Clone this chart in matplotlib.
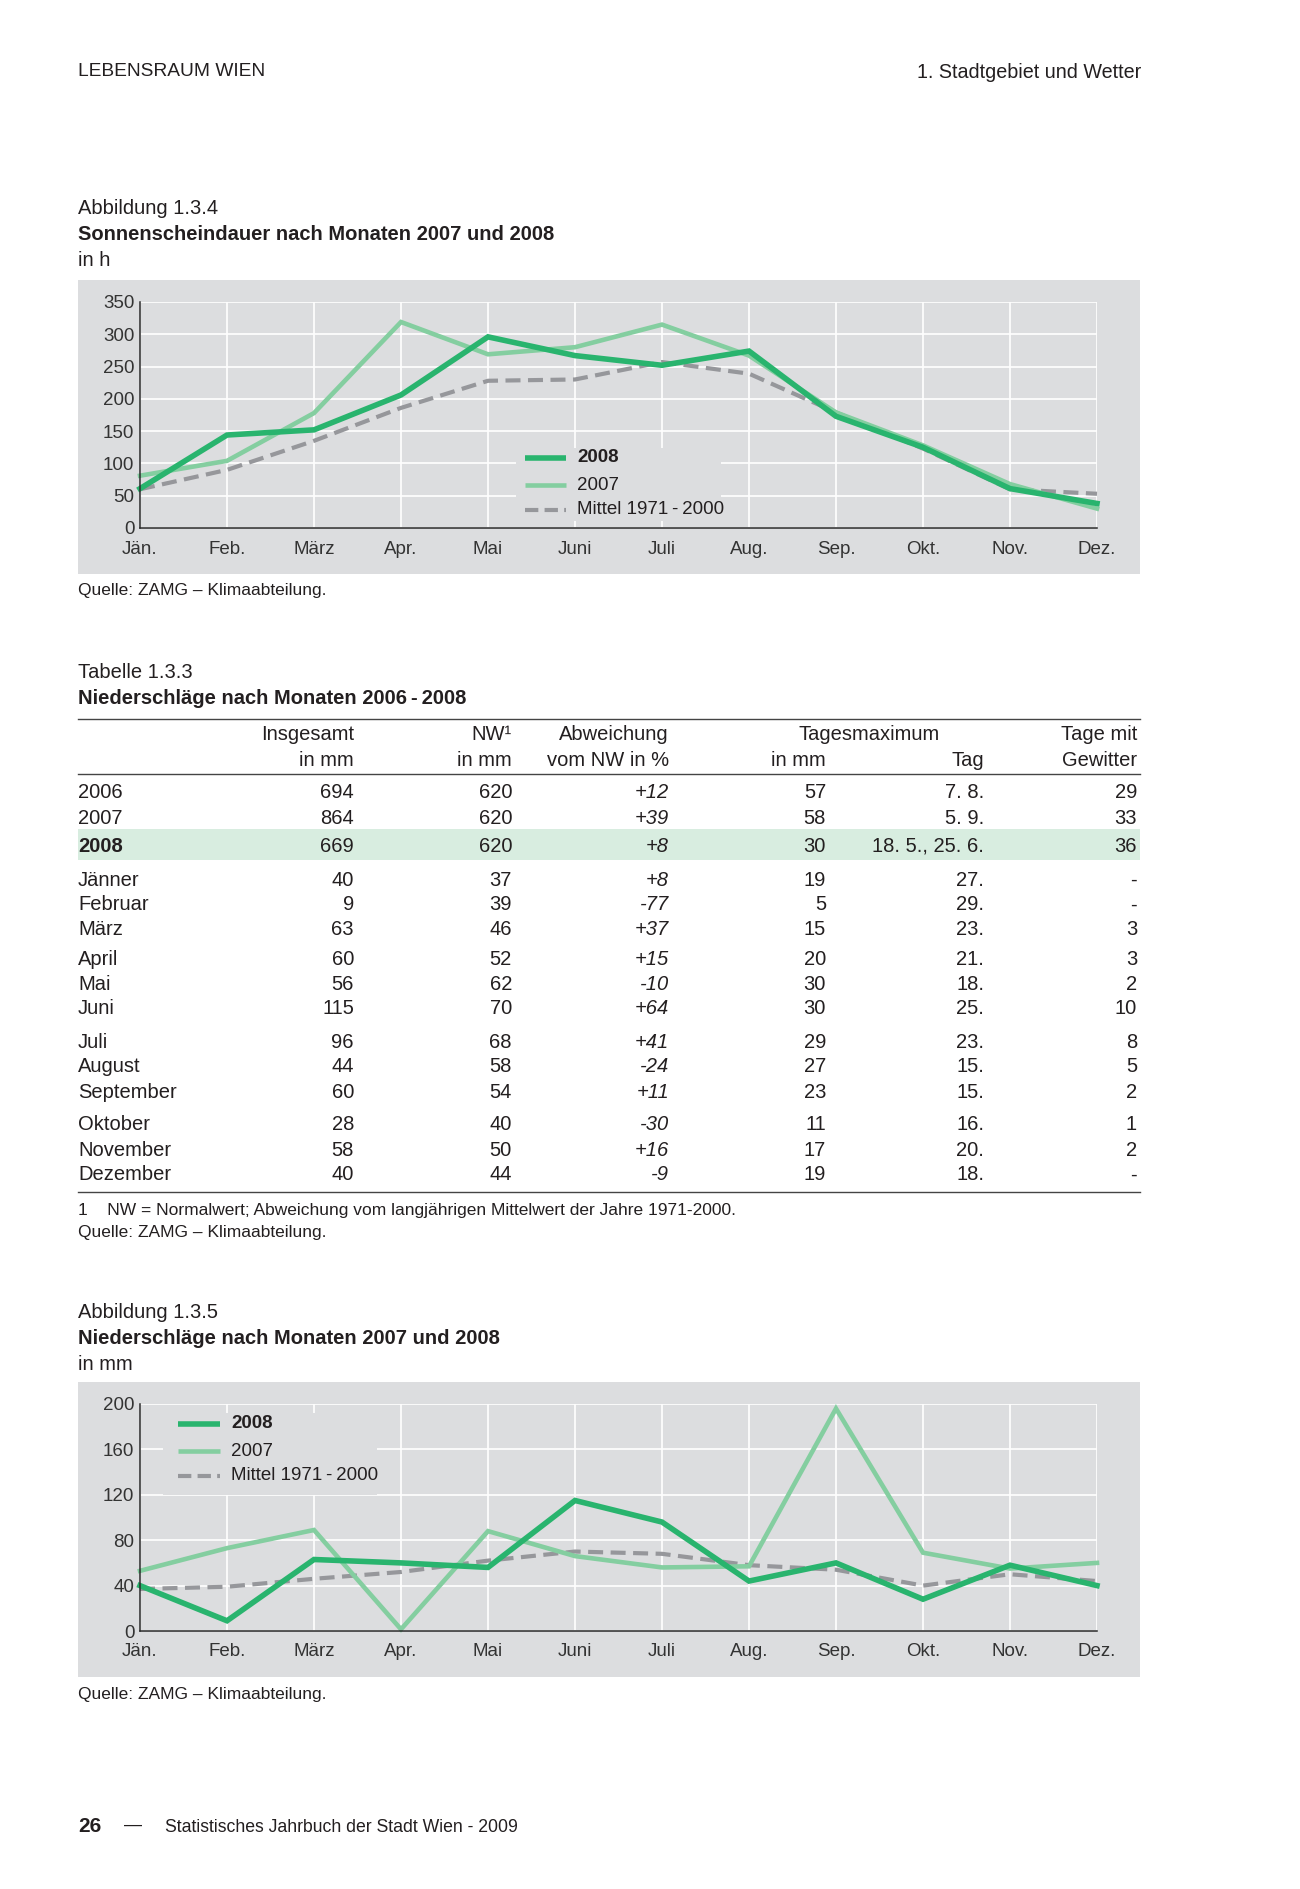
import numpy as np
import matplotlib
matplotlib.use('Agg')
import matplotlib.pyplot as plt
from matplotlib.patches import Rectangle
from matplotlib.lines import Line2D

plt.rcParams['font.family'] = ['Liberation Sans', 'DejaVu Sans']

# ---------------- data ----------------
months = ['Jän.', 'Feb.', 'März', 'Apr.', 'Mai', 'Juni', 'Juli', 'Aug.', 'Sep.', 'Okt.', 'Nov.', 'Dez.']

sun_2008 = [61, 144, 152, 206, 296, 267, 252, 274, 173, 125, 61, 38]
sun_2007 = [81, 104, 178, 319, 269, 280, 315, 267, 179, 128, 68, 30]
sun_mittel = [60, 90, 135, 186, 228, 230, 257, 239, 179, 123, 60, 53]

rain_2008 = [40, 9, 63, 60, 56, 115, 96, 44, 60, 28, 58, 40]
rain_2007 = [53, 73, 89, 1.5, 88, 66, 56, 57, 196, 69, 55, 60]
rain_mittel = [37, 39, 46, 52, 62, 70, 68, 58, 54, 40, 50, 44]

tab_rows = ['2006', '2007', '2008', 'Jänner', 'Februar', 'März', 'April', 'Mai', 'Juni',
            'Juli', 'August', 'September', 'Oktober', 'November', 'Dezember']
tab_insgesamt = [694, 864, 669, 40, 9, 63, 60, 56, 115, 96, 44, 60, 28, 58, 40]
tab_nw = [620, 620, 620, 37, 39, 46, 52, 62, 70, 68, 58, 54, 40, 50, 44]
tab_abw = ['+12', '+39', '+8', '+8', '-77', '+37', '+15', '-10', '+64', '+41', '-24', '+11', '-30', '+16', '-9']
tab_tagmax = [57, 58, 30, 19, 5, 15, 20, 30, 30, 29, 27, 23, 11, 17, 19]
tab_tag = ['7. 8.', '5. 9.', '18. 5., 25. 6.', '27.', '29.', '23.', '21.', '18.', '25.', '23.',
           '15.', '15.', '16.', '20.', '18.']
tab_gewitter = ['29', '33', '36', '-', '-', '3', '3', '2', '10', '8', '5', '2', '1', '2', '-']

# ---------------- style ----------------
W, H = 1300, 1889
TXT = '#231f20'
PANEL = '#dcdddf'
C08 = '#29b46e'
C07 = '#84cea0'
CMIT = '#96979b'
HILITE = '#d8ede0'
LW08, LW07, LWMIT = 4.0, 3.3, 3.0
MITTEL = 'Mittel 1971\u2009-\u20092000'


def fx(x):
    return x / W


def fy(y):
    return 1 - y / H


fig = plt.figure(figsize=(13, 18.89), dpi=100)


def txt(x, y, s, **kw):
    kw.setdefault('color', TXT)
    kw.setdefault('fontsize', 14.5)
    kw.setdefault('va', 'center')
    fig.text(fx(x), fy(y), s, **kw)


def hline(y, x0=78, x1=1140, lw=1.0):
    fig.add_artist(Line2D([fx(x0), fx(x1)], [fy(y), fy(y)], color='#444444', lw=lw))


# page header / footer
txt(78, 72, 'LEBENSRAUM WIEN', fontsize=13.8)
txt(1141, 72, '1. Stadtgebiet und Wetter', fontsize=14.2, ha='right')
txt(78, 1827, '26', fontsize=15, fontweight='bold')
txt(124, 1825, '—', fontsize=13)
txt(165, 1827, 'Statistisches Jahrbuch der Stadt Wien - 2009', fontsize=12.7)


def chart(top, bottom, ymax, ystep, d08, d07, dmit, leg_xy, leg_bg):
    # grey panel
    fig.add_artist(Rectangle((fx(78), fy(bottom)), fx(1140) - fx(78), fy(top) - fy(bottom),
                             transform=fig.transFigure, facecolor=PANEL, edgecolor='none', zorder=0))
    ax_top = top + 22
    ax_bot = bottom - 46
    ax = fig.add_axes([fx(140), fy(ax_bot), fx(1097) - fx(140), fy(ax_top) - fy(ax_bot)])
    ax.set_facecolor(PANEL)
    x = np.arange(len(months))
    ax.plot(x, dmit, color=CMIT, lw=LWMIT, dashes=(3.6, 1.8), solid_capstyle='butt',
            clip_on=False, zorder=3)
    ax.plot(x, d07, color=C07, lw=LW07, clip_on=False, zorder=4, solid_joinstyle='miter')
    ax.plot(x, d08, color=C08, lw=LW08, clip_on=False, zorder=5, solid_joinstyle='miter')
    ax.set_xlim(0, 11)
    ax.set_ylim(0, ymax)
    ax.set_xticks(x)
    ax.set_xticklabels(months)
    ax.set_yticks(np.arange(0, ymax + 1, ystep))
    ax.grid(True, color='white', lw=1.2, zorder=1)
    ax.set_axisbelow(True)
    for s in ['top', 'right']:
        ax.spines[s].set_visible(False)
    for s in ['left', 'bottom']:
        ax.spines[s].set_color('#2a2a2a')
        ax.spines[s].set_linewidth(1.1)
        ax.spines[s].set_zorder(6)
    ax.tick_params(length=0, labelsize=13.5, labelcolor='#333333')
    ax.tick_params(axis='x', pad=9)
    ax.tick_params(axis='y', pad=4)
    # legend box covering grid
    lx0, ly0, lx1, ly1 = leg_bg
    ax.add_artist(Rectangle((fx(lx0), fy(ly1)), fx(lx1) - fx(lx0), fy(ly0) - fy(ly1),
                            transform=fig.transFigure, facecolor=PANEL, edgecolor='none', zorder=2))
    hx0, hx1, tx0, ys = leg_xy
    handles = [(C08, LW08, None, '2008', 'bold'), (C07, LW07, None, '2007', 'normal'),
               (CMIT, LWMIT, (3.2, 1.5), MITTEL, 'normal')]
    for (c, lw, dash, lab, wt), yy in zip(handles, ys):
        ln = Line2D([fx(hx0), fx(hx1)], [fy(yy), fy(yy)], color=c, lw=lw, transform=fig.transFigure,
                    solid_capstyle='butt', dash_capstyle='butt')
        if dash:
            ln.set_dashes(dash)
        fig.add_artist(ln)
        txt(tx0, yy, lab, fontsize=13.5, fontweight=wt)
    return ax


# ---------------- Abbildung 1.3.4 ----------------
txt(78, 209, 'Abbildung 1.3.4', fontsize=14.5)
txt(78, 235, 'Sonnenscheindauer nach Monaten 2007 und 2008', fontsize=14.5, fontweight='bold')
txt(78, 260, 'in h', fontsize=14.5)
chart(280, 574, 350, 50, sun_2008, sun_2007, sun_mittel,
      (525, 566, 577, [458, 485, 510]), (516, 448, 721, 521))
txt(78, 591, 'Quelle: ZAMG – Klimaabteilung.', fontsize=12.5)

# ---------------- Tabelle 1.3.3 ----------------
txt(78, 672, 'Tabelle 1.3.3', fontsize=14.5)
txt(78, 698, 'Niederschläge nach Monaten 2006\u2009-\u20092008', fontsize=14.5, fontweight='bold')
hline(719)
hline(774)
hline(1192)

col_ins, col_nw, col_abw, col_tmx, col_tag, col_gew = 354, 512, 669, 826, 984, 1137
txt(col_ins, 735, 'Insgesamt', ha='right')
txt(col_ins, 760, 'in mm', ha='right')
txt(col_nw, 735, 'NW¹', ha='right')
txt(col_nw, 760, 'in mm', ha='right')
txt(col_abw, 735, 'Abweichung', ha='right')
txt(col_abw, 760, 'vom NW in %', ha='right')
txt(869, 735, 'Tagesmaximum', ha='center')
txt(col_tmx, 760, 'in mm', ha='right')
txt(col_tag, 760, 'Tag', ha='right')
txt(col_gew, 735, 'Tage mit', ha='right')
txt(col_gew, 760, 'Gewitter', ha='right')

row_y = [793, 818, 846, 880, 905, 930, 959, 984, 1009, 1042, 1067, 1092, 1125, 1150, 1175]
fig.add_artist(Rectangle((fx(78), fy(860)), fx(1140) - fx(78), fy(829) - fy(860),
                         transform=fig.transFigure, facecolor=HILITE, edgecolor='none', zorder=0))
for i, yy in enumerate(row_y):
    wt = 'bold' if tab_rows[i] == '2008' else 'normal'
    txt(78, yy, tab_rows[i], fontweight=wt)
    txt(col_ins, yy, str(tab_insgesamt[i]), ha='right')
    txt(col_nw, yy, str(tab_nw[i]), ha='right')
    txt(col_abw, yy, tab_abw[i], ha='right', style='italic')
    txt(col_tmx, yy, str(tab_tagmax[i]), ha='right')
    txt(col_tag, yy, tab_tag[i], ha='right')
    txt(col_gew, yy, tab_gewitter[i], ha='right')

txt(78, 1210, '1    NW = Normalwert; Abweichung vom langjährigen Mittelwert der Jahre 1971-2000.', fontsize=12.5)
txt(78, 1232, 'Quelle: ZAMG – Klimaabteilung.', fontsize=12.5)

# ---------------- Abbildung 1.3.5 ----------------
txt(78, 1313, 'Abbildung 1.3.5', fontsize=14.5)
txt(78, 1339, 'Niederschläge nach Monaten 2007 und 2008', fontsize=14.5, fontweight='bold')
txt(78, 1364, 'in mm', fontsize=14.5)
chart(1382, 1677, 200, 40, rain_2008, rain_2007, rain_mittel,
      (178, 220, 231, [1424, 1451, 1476]), (163, 1413, 377, 1495))
txt(78, 1694, 'Quelle: ZAMG – Klimaabteilung.', fontsize=12.5)

fig.savefig('out.png', dpi=100, facecolor='white')
